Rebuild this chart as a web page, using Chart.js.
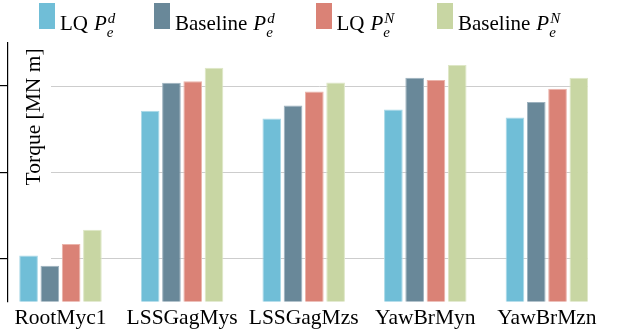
<!DOCTYPE html>
<html><head><meta charset="utf-8">
<script src="https://cdn.jsdelivr.net/npm/chart.js@4.4.1/dist/chart.umd.min.js"></script>
<style>
html,body{margin:0;padding:0;background:#fff;}
#wrap{position:relative;width:617px;height:332px;overflow:hidden;}
#legend{position:absolute;left:0;top:0;width:617px;height:42px;font-family:"Liberation Serif",serif;font-size:21px;color:#000;}
.item{position:absolute;top:0;display:flex;align-items:flex-start;}
.box{width:16px;height:26px;margin-top:3px;margin-right:5px;}
.txt{line-height:21px;height:21px;margin-top:13px;white-space:nowrap;}
.P{font-style:italic;margin-left:6px;}
.scr{position:relative;display:inline-block;height:1px;font-size:15px;font-style:italic;line-height:15px;}
.sup{position:absolute;left:1px;bottom:4px;}
.sub{position:absolute;left:0;bottom:-10px;}
canvas{position:absolute;left:0;top:0;}
</style>
</head><body>
<div id="wrap"><canvas id="c" width="617" height="332"></canvas><div id="legend"></div></div>
<script>
const categories = ['RootMyc1', 'LSSGagMys', 'LSSGagMzs', 'YawBrMyn', 'YawBrMzn'];
const lqPd     = [1.035, 2.713, 2.624, 2.729, 2.636];
const basePd   = [0.915, 3.038, 2.776, 3.097, 2.814];
const lqPN     = [1.166, 3.055, 2.938, 3.070, 2.969];
const basePN   = [1.334, 3.213, 3.043, 3.244, 3.097];
const yTicks   = [1, 2, 3];
const seriesNames = ['LQ P_e^d', 'Baseline P_e^d', 'LQ P_e^N', 'Baseline P_e^N'];
const seriesValues = [lqPd, basePd, lqPN, basePN];
const fillColors   = ['#70BED7', '#698899', '#DA8276', '#C8D6A3'];
const edgeColors   = ['#A9D9E8', '#9DB2BF', '#EBB3AA', '#DEE7C6'];

const legendLefts = [39, 154, 315.5, 437];

const htmlLegend = {
  id: 'htmlLegend',
  afterUpdate(chart) {
    const el = document.getElementById('legend');
    el.innerHTML = '';
    const items = chart.options.plugins.legend.labels.generateLabels(chart);
    items.forEach((it, k) => {
      const m = /^(.*) P_(\w)\^(\w)$/.exec(it.text);
      const d = document.createElement('div'); d.className = 'item';
      d.style.left = legendLefts[k] + 'px';
      const b = document.createElement('div'); b.className = 'box'; b.style.background = it.fillStyle;
      const t = document.createElement('div'); t.className = 'txt';
      const w = m[3] === 'N' ? 12 : 9;
      t.innerHTML = m[1] + '<span class="P">P</span><span class="scr" style="width:' + w + 'px"><span class="sup">' + m[3] + '</span><span class="sub">' + m[2] + '</span></span>';
      d.appendChild(b); d.appendChild(t); el.appendChild(d);
    });
  }
};

const yTickSetter = s => { s.ticks = yTicks.map(v => ({ value: v })); };

new Chart(document.getElementById('c'), {
  type: 'bar',
  data: {
    datasets: seriesValues.map((vals, k) => ({
      label: seriesNames[k],
      data: vals.map((v, i) => ({ x: i, y: v })),
      backgroundColor: fillColors[k],
      borderColor: edgeColors[k],
      borderWidth: 1,
      categoryPercentage: 0.70,
      barPercentage: 0.877,
      clip: { left: 45, top: false, right: 5, bottom: 0 }
    }))
  },
  options: {
    responsive: false,
    animation: false,
    devicePixelRatio: 1,
    layout: { padding: { left: 21, right: 29, top: 43, bottom: 0 } },
    plugins: { legend: { display: false }, tooltip: { enabled: false } },
    scales: {
      x: {
        type: 'linear', min: -0.078, max: 4.338, offset: false,
        grid: { display: false, drawTicks: false },
        border: { display: false },
        afterBuildTicks: s => { s.ticks = categories.map((_, i) => ({ value: i })); },
        ticks: {
          callback: v => categories[v],
          font: { family: 'Liberation Serif', size: 21.5 },
          color: '#000', padding: 4, maxRotation: 0, autoSkip: false
        },
        afterFit: s => { s.height = 30.5; }
      },
      y: {
        min: 0.5, max: 3.5,
        afterBuildTicks: yTickSetter,
        grid: { color: '#cdcdcd', lineWidth: 1, drawTicks: false },
        border: { display: false },
        ticks: { display: false },
        title: {
          display: true, text: 'Torque [MN m] ', align: 'end',
          font: { family: 'Liberation Serif', size: 21.5 }, color: '#000', padding: 0
        },
        afterFit: s => { s.width = 30; }
      },
      yAxisLine: {
        axis: 'y', position: { x: -0.432 }, min: 0.5, max: 3.5,
        afterBuildTicks: yTickSetter,
        grid: { drawOnChartArea: false, drawTicks: true, tickLength: 8, color: '#000', lineWidth: 1.2 },
        border: { display: true, color: '#000', width: 1.2 },
        ticks: { display: false }
      }
    }
  },
  plugins: [htmlLegend]
});
</script>
</body></html>
